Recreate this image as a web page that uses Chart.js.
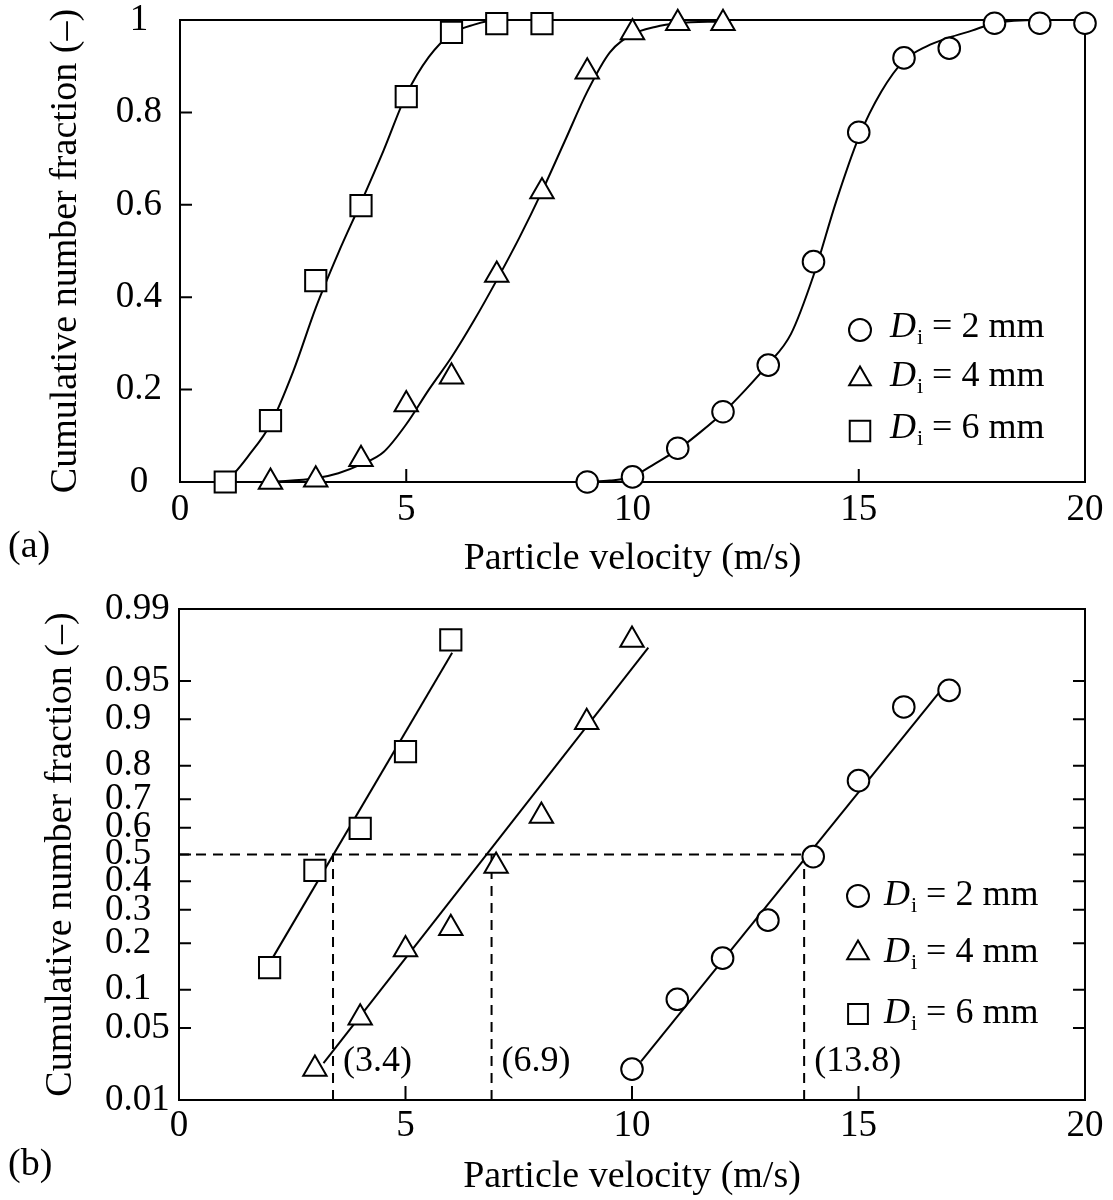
<!DOCTYPE html>
<html>
<head>
<meta charset="utf-8">
<title>Cumulative number fraction of particle velocity</title>
<script src="https://cdn.jsdelivr.net/npm/chart.js@4/dist/chart.umd.min.js"></script>
<style>
  html, body { margin: 0; padding: 0; background: #fff; }
  #wrap { position: relative; width: 1113px; height: 1200px; }
  canvas { position: absolute; left: 0; }
  #cumulative { top: 0; width: 1113px; height: 590px; }
  #probability { top: 590px; width: 1113px; height: 610px; }
  .panel { position: absolute; left: 8px; font: 38px 'Liberation Serif', serif; line-height: 38px; color: #000; }
</style>
</head>
<body>
<div id="wrap">
  <canvas id="cumulative" width="1113" height="590"></canvas>
  <canvas id="probability" width="1113" height="610"></canvas>
  <div class="panel" style="top:525px">(a)</div>
  <div class="panel" style="top:1143px">(b)</div>
</div>
<script>
const SERIF = "'Liberation Serif', 'Times New Roman', serif";

// Inner diameters D_i (mm) of the three series
const innerDiameters = [2, 4, 6];

// (a) Measured cumulative number fractions
const velocity2mmA = [9, 10, 11, 12, 13, 14, 15, 16, 17, 18, 19, 20];
const fraction2mmA = [0, 0.011, 0.073, 0.152, 0.253, 0.477, 0.757, 0.918, 0.939, 0.993, 0.993, 0.993];
const velocity4mmA = [2, 3, 4, 5, 6, 7, 8, 9, 10, 11, 12];
const fraction4mmA = [0, 0.005, 0.049, 0.168, 0.228, 0.448, 0.629, 0.888, 0.973, 0.993, 0.993];
const velocity6mmA = [1, 2, 3, 4, 5, 6, 7, 8];
const fraction6mmA = [0, 0.133, 0.436, 0.598, 0.834, 0.973, 0.992, 0.992];

// (a) Smoothed distribution curves
const curve2mmX = [9, 9.5, 10, 10.5, 11, 11.5, 12, 12.5, 13, 13.5, 14, 14.5, 15, 15.5, 16, 16.5, 17, 17.5, 18, 19, 20];
const curve2mmP = [0, 0.003, 0.012, 0.04, 0.07, 0.108, 0.15, 0.2, 0.255, 0.32, 0.447, 0.607, 0.746, 0.845, 0.912, 0.943, 0.962, 0.977, 0.993, 1, 1];
const curve4mmX = [2, 3, 3.5, 4, 4.5, 5, 5.5, 6, 6.5, 7, 7.5, 8, 8.5, 9, 9.5, 10, 10.5, 11, 12];
const curve4mmP = [0, 0.008, 0.019, 0.038, 0.065, 0.125, 0.2, 0.27, 0.35, 0.437, 0.529, 0.629, 0.737, 0.845, 0.93, 0.969, 0.985, 0.993, 0.997];
const curve6mmX = [1, 1.2, 1.5, 2, 2.5, 3, 3.5, 4, 4.5, 5, 5.5, 6, 6.5, 7, 8];
const curve6mmP = [0, 0.019, 0.055, 0.125, 0.239, 0.377, 0.496, 0.605, 0.718, 0.838, 0.92, 0.97, 0.99, 1, 1];

// (b) Measured fractions on normal probability paper
const velocity2mmB = [10, 11, 12, 13, 14, 15, 16, 17];
const fraction2mmB = [0.021, 0.085, 0.163, 0.267, 0.492, 0.758, 0.919, 0.940];
const velocity4mmB = [3, 4, 5, 6, 7, 8, 9, 10];
const fraction4mmB = [0.021, 0.061, 0.184, 0.242, 0.457, 0.642, 0.895, 0.979];
const velocity6mmB = [2, 3, 4, 5, 6];
const fraction6mmB = [0.142, 0.44, 0.598, 0.835, 0.979];

// (b) Straight-line fits (end points)
const fit2mmX = [10.2, 16.85];
const fit2mmP = [0.025, 0.942];
const fit4mmX = [3.19, 10.36];
const fit4mmP = [0.024, 0.975];
const fit6mmX = [2.08, 6.03];
const fit6mmP = [0.166, 0.972];

// (b) Velocities at 50 % cumulative fraction
const medianVelocity = [3.4, 6.9, 13.8];
const medianFraction = 0.5;

// Axis ticks
const xTicks = [0, 5, 10, 15, 20];
const yTicksA = [0, 0.2, 0.4, 0.6, 0.8, 1];
const yTicksB = [0.01, 0.05, 0.1, 0.2, 0.3, 0.4, 0.5, 0.6, 0.7, 0.8, 0.9, 0.95, 0.99];

// ---------- normal distribution helpers for the probability axis ----------
function normInv(p) {
  const a = [-3.969683028665376e+01, 2.209460984245205e+02, -2.759285104469687e+02, 1.383577518672690e+02, -3.066479806614716e+01, 2.506628277459239e+00];
  const b = [-5.447609879822406e+01, 1.615858368580409e+02, -1.556989798598866e+02, 6.680131188771972e+01, -1.328068155288572e+01];
  const c = [-7.784894002430293e-03, -3.223964580411365e-01, -2.400758277161838e+00, -2.549732539343734e+00, 4.374664141464968e+00, 2.938163982698783e+00];
  const d = [7.784695709041462e-03, 3.224671290700398e-01, 2.445134137142996e+00, 3.754408661907416e+00];
  if (p <= 0) return -Infinity;
  if (p >= 1) return Infinity;
  const pl = 0.02425;
  let q, r;
  if (p < pl) {
    q = Math.sqrt(-2 * Math.log(p));
    return (((((c[0]*q+c[1])*q+c[2])*q+c[3])*q+c[4])*q+c[5]) / ((((d[0]*q+d[1])*q+d[2])*q+d[3])*q+1);
  }
  if (p <= 1 - pl) {
    q = p - 0.5; r = q * q;
    return (((((a[0]*r+a[1])*r+a[2])*r+a[3])*r+a[4])*r+a[5])*q / (((((b[0]*r+b[1])*r+b[2])*r+b[3])*r+b[4])*r+1);
  }
  q = Math.sqrt(-2 * Math.log(1 - p));
  return -(((((c[0]*q+c[1])*q+c[2])*q+c[3])*q+c[4])*q+c[5]) / ((((d[0]*q+d[1])*q+d[2])*q+d[3])*q+1);
}
function normCdf(z) {
  const t = 1 / (1 + 0.3275911 * Math.abs(z) / Math.SQRT2);
  const y = 1 - (((((1.061405429*t - 1.453152027)*t) + 1.421413741)*t - 0.284496736)*t + 0.254829592)*t * Math.exp(-z*z/2);
  return z >= 0 ? 0.5 * (1 + y) : 0.5 * (1 - y);
}

// Probability (normal-quantile) axis
class ProbabilityScale extends Chart.LinearScale {
  static id = 'probability';
  getPixelForValue(value) {
    if (value === null || value === undefined) return NaN;
    const lo = normInv(this.min), hi = normInv(this.max);
    return this.getPixelForDecimal((normInv(value) - lo) / (hi - lo));
  }
  getValueForPixel(pixel) {
    const lo = normInv(this.min), hi = normInv(this.max);
    return normCdf(lo + this.getDecimalForPixel(pixel) * (hi - lo));
  }
}
Chart.register(ProbabilityScale);

// ---------- plugins ----------
// Box frame and inward tick marks
const frameAndTicks = {
  id: 'frameAndTicks',
  beforeDatasetsDraw(chart, args, opts) {
    const { ctx, chartArea: a, scales } = chart;
    const x = scales.x, y = scales.y;
    ctx.save();
    ctx.strokeStyle = '#000';
    ctx.lineWidth = 2;
    ctx.strokeRect(a.left, a.top, a.right - a.left, a.bottom - a.top);
    ctx.beginPath();
    x.ticks.forEach(t => {
      if (t.value <= x.min || t.value >= x.max) return;
      const px = x.getPixelForValue(t.value);
      ctx.moveTo(px, a.bottom);
      ctx.lineTo(px, a.bottom - opts.xTickLength);
    });
    y.ticks.forEach(t => {
      if (t.value <= y.min || t.value >= y.max) return;
      const py = y.getPixelForValue(t.value);
      ctx.moveTo(a.left, py);
      ctx.lineTo(a.left + opts.yTickLength, py);
      if (opts.mirrorY) {
        ctx.moveTo(a.right, py);
        ctx.lineTo(a.right - opts.yTickLength, py);
      }
    });
    ctx.stroke();
    ctx.restore();
  }
};

// Legend with italic D and subscript i
const diameterLegend = {
  id: 'diameterLegend',
  afterDraw(chart, args, opts) {
    const ctx = chart.ctx;
    ctx.save();
    ctx.textBaseline = 'alphabetic';
    ctx.textAlign = 'left';
    opts.baselines.forEach((base, i) => {
      const ds = chart.data.datasets[i];
      ctx.fillStyle = '#fff';
      ctx.strokeStyle = '#000';
      ctx.lineWidth = 2;
      Chart.helpers.drawPoint(ctx, { pointStyle: ds.pointStyle, radius: opts.markerRadii[i], borderWidth: 2, rotation: 0 },
        opts.markerX, base - opts.markerLift);
      ctx.fillStyle = '#000';
      let x = opts.textX;
      ctx.font = `italic ${opts.fontSize}px ${SERIF}`;
      ctx.fillText('D', x, base);
      x += ctx.measureText('D').width + 1;
      ctx.font = `${opts.subSize}px ${SERIF}`;
      ctx.fillText('i', x, base + opts.subDrop);
      x += ctx.measureText('i').width;
      ctx.font = `${opts.fontSize}px ${SERIF}`;
      ctx.fillText(` = ${innerDiameters[i]} mm`, x, base);
    });
    ctx.restore();
  }
};

// Median velocity annotations next to the dashed lines
const medianLabels = {
  id: 'medianLabels',
  afterDatasetsDraw(chart, args, opts) {
    const { ctx, chartArea, scales: { x } } = chart;
    ctx.save();
    ctx.font = `${opts.fontSize}px ${SERIF}`;
    ctx.fillStyle = '#000';
    ctx.textBaseline = 'middle';
    ctx.textAlign = 'left';
    medianVelocity.forEach(v => {
      ctx.fillText(`(${v.toFixed(1)})`, x.getPixelForValue(v) + opts.gap, chartArea.bottom - opts.lift);
    });
    ctx.restore();
  }
};

// ---------- dataset builders ----------
const pts = (xs, ys) => xs.map((x, i) => ({ x, y: ys[i] }));
function markerSet(xs, ps, style, radius) {
  return {
    data: pts(xs, ps), showLine: false, pointStyle: style,
    pointRadius: radius, pointHoverRadius: radius, pointBorderWidth: 2,
    pointBorderColor: '#000', pointBackgroundColor: '#fff',
    borderColor: '#000', backgroundColor: '#fff', clip: false, order: 0
  };
}
function lineSet(xs, ps, extra) {
  return Object.assign({
    data: pts(xs, ps), borderColor: '#000', borderWidth: 2, pointRadius: 0,
    pointHoverRadius: 0, fill: false, tension: 0, order: 1
  }, extra || {});
}

const tickFont = { family: SERIF, size: 37 };
const titleFont = { family: SERIF, size: 38 };
const fixedTicks = values => scale => { scale.ticks = values.map(v => ({ value: v })); };
const noPad = s => { s.paddingTop = 0; s.paddingBottom = 0; };

function xAxis(height, tickPad, titlePad) {
  return {
    type: 'linear', position: 'bottom', min: 0, max: 20,
    afterBuildTicks: fixedTicks(xTicks),
    afterFit: s => { s.height = height; },
    grid: { display: false, drawTicks: false },
    border: { display: false },
    ticks: { color: '#000', font: tickFont, padding: tickPad, autoSkip: false, maxRotation: 0 },
    title: { display: true, text: 'Particle velocity (m/s)', color: '#000', font: titleFont, padding: { top: 0, bottom: titlePad } }
  };
}
const yTitleText = 'Cumulative number fraction (\u2013)';

Chart.defaults.font.family = SERIF;
Chart.defaults.color = '#000';

// ---------- (a) linear cumulative distribution ----------
new Chart(document.getElementById('cumulative'), {
  type: 'line',
  data: {
    datasets: [
      markerSet(velocity2mmA, fraction2mmA, 'circle', 10.8),
      markerSet(velocity4mmA, fraction4mmA, 'triangle', 13.5),
      markerSet(velocity6mmA, fraction6mmA, 'rect', 15),
      lineSet(curve2mmX, curve2mmP, { cubicInterpolationMode: 'monotone' }),
      lineSet(curve4mmX, curve4mmP, { cubicInterpolationMode: 'monotone' }),
      lineSet(curve6mmX, curve6mmP, { cubicInterpolationMode: 'monotone' })
    ]
  },
  options: {
    responsive: false, animation: false, devicePixelRatio: 1,
    layout: { padding: { top: 20, right: 28, bottom: 0, left: 0 } },
    plugins: {
      legend: { display: false }, tooltip: { enabled: false },
      frameAndTicks: { xTickLength: 13, yTickLength: 12, mirrorY: false },
      diameterLegend: { baselines: [337, 386, 438], markerX: 860, markerLift: 7, markerRadii: [11, 12.5, 14.5],
        textX: 890, fontSize: 36, subSize: 22, subDrop: 7 }
    },
    scales: {
      x: xAxis(108, 6, 8),
      y: {
        type: 'linear', position: 'left', min: 0, max: 1,
        afterBuildTicks: fixedTicks(yTicksA),
        afterFit: s => { s.width = 180; noPad(s); },
        grid: { display: false, drawTicks: false },
        border: { display: false },
        ticks: { color: '#000', font: tickFont, padding: 18, crossAlign: 'center', autoSkip: false,
          callback: v => String(Math.round(v * 10) / 10) },
        title: { display: true, text: yTitleText, color: '#000', font: titleFont, padding: { top: 43, bottom: 0 } }
      }
    }
  },
  plugins: [frameAndTicks, diameterLegend]
});

// ---------- (b) normal probability paper ----------
const hLine = [{ x: 0, y: medianFraction }, { x: Math.max(...medianVelocity), y: medianFraction }];
const dashed = { borderDash: [10, 7], borderWidth: 2, order: 2 };

new Chart(document.getElementById('probability'), {
  type: 'line',
  data: {
    datasets: [
      markerSet(velocity2mmB, fraction2mmB, 'circle', 10.8),
      markerSet(velocity4mmB, fraction4mmB, 'triangle', 13.5),
      markerSet(velocity6mmB, fraction6mmB, 'rect', 15),
      lineSet(fit2mmX, fit2mmP),
      lineSet(fit4mmX, fit4mmP),
      lineSet(fit6mmX, fit6mmP),
      Object.assign(lineSet([], []), dashed, { data: hLine }),
      ...medianVelocity.map(v => lineSet([v, v], [yTicksB[0], medianFraction], dashed))
    ]
  },
  options: {
    responsive: false, animation: false, devicePixelRatio: 1,
    layout: { padding: { top: 19, right: 28, bottom: 0, left: 0 } },
    plugins: {
      legend: { display: false }, tooltip: { enabled: false },
      frameAndTicks: { xTickLength: 14, yTickLength: 12, mirrorY: true },
      diameterLegend: { baselines: [315, 372, 433], markerX: 858, markerLift: 9, markerRadii: [11, 12.5, 14],
        textX: 884, fontSize: 36, subSize: 22, subDrop: 7 },
      medianLabels: { fontSize: 36, gap: 10, lift: 38 }
    },
    scales: {
      x: xAxis(100, 4, 0.5),
      y: {
        type: 'probability', position: 'left', weight: 0,
        min: yTicksB[0], max: yTicksB[yTicksB.length - 1],
        afterBuildTicks: fixedTicks(yTicksB),
        afterFit: s => { s.width = 74; noPad(s); },
        grid: { display: false, drawTicks: false },
        border: { display: false },
        ticks: { color: '#000', font: tickFont, padding: 0, crossAlign: 'far', autoSkip: false,
          callback: v => String(v) }
      },
      yTitle: {
        type: 'linear', position: 'left', weight: 1, display: true,
        afterFit: s => { s.width = 105; noPad(s); },
        grid: { display: false, drawTicks: false },
        border: { display: false },
        ticks: { display: false },
        title: { display: true, text: yTitleText, color: '#000', font: titleFont, padding: { top: 38, bottom: 0 } }
      }
    }
  },
  plugins: [frameAndTicks, diameterLegend, medianLabels]
});
</script>
</body>
</html>
